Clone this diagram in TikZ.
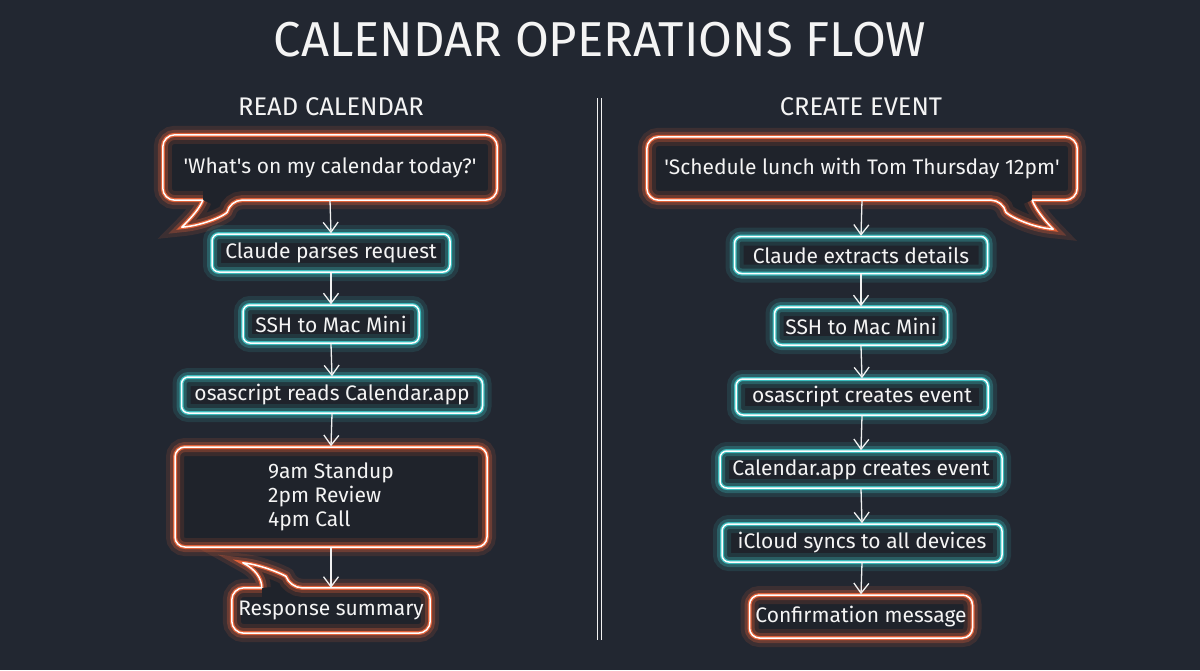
\documentclass[tikz,border=0pt]{standalone}
\usepackage{fontspec}
\setmainfont{Fira Sans}
\usetikzlibrary{arrows.meta,calc,backgrounds}

\definecolor{bgcol}{HTML}{222731}
\definecolor{boxfill}{HTML}{1F232B}
\definecolor{orangec}{HTML}{FF6A3A}
\definecolor{tealc}{HTML}{3ED2D2}
\definecolor{textc}{HTML}{F4F4F4}

\newcommand{\bodyfont}{\fontsize{21}{24}\selectfont}
\newcommand{\q}{\textquotesingle}

\tikzset{
    neon/.style={
        preaction={fill=boxfill},
        preaction={draw=#1, opacity=0.12, line width=18pt},
        preaction={draw=#1, opacity=0.25, line width=10pt},
        preaction={draw=#1, opacity=0.8, line width=4pt},
        draw=white, line width=1.5pt},
    tealbox/.style={neon=tealc, rounded corners=7pt, minimum height=38pt,
        inner sep=0pt, text=textc, font=\bodyfont},
    orangebox/.style={neon=orangec, rounded corners=10pt,
        inner sep=0pt, text=textc, font=\bodyfont},
    bubbletext/.style={inner sep=0pt, text=textc, font=\bodyfont},
    bubble/.style={neon=orangec, rounded corners=12pt, line cap=round, line join=round},
    flowarrow/.style={-{Straight Barb[length=10pt,width=15pt]}, draw=white!88!gray, line width=1.3pt},
    heading/.style={text=textc, font=\fontsize{25.5}{28}\selectfont},
}

\begin{document}
\begin{tikzpicture}[x=1pt, y=-1pt]
    \useasboundingbox (0, 0) rectangle (1200, 670);
    \begin{scope}[on background layer]
        \fill [bgcol] (0, 0) rectangle (1200, 670);
    \end{scope}

    \node (title) at (600, 40) [text=textc, font=\fontsize{49}{54}\selectfont] {CALENDAR OPERATIONS FLOW};

    % divider
    \draw [white!90!gray, line width=1pt] (597.5, 98) -- (597.5, 640);
    \draw [white!90!gray, line width=1pt] (601.5, 98) -- (601.5, 640);

    % Read calendar
    \node (readhd) at (331, 107) [heading] {READ CALENDAR};
    \node (q1) at (330, 167.5) [bubbletext, minimum width=334pt, minimum height=65pt] {\q What\q s on my calendar today?\q};
    \node (parse) at (331, 253) [tealbox, minimum width=238pt] {Claude parses request};
    \node (ssh1) at (331, 324) [tealbox, minimum width=176pt] {SSH to Mac Mini};
    \node (read) at (332, 395) [tealbox, minimum width=301pt, minimum height=36pt] {osascript reads Calendar.app};
    \node (events) at (331, 497) [orangebox, minimum width=312pt, minimum height=100pt, align=left] {9am Standup\\2pm Review\\4pm Call};
    \node (resp) at (331, 610.5) [bubbletext, minimum width=198pt, minimum height=45pt] {Response summary};

    \draw [flowarrow] (q1.south) -- (parse.north);
    \draw [flowarrow] (parse.south) -- (ssh1.north);
    \draw [flowarrow] (ssh1.south) -- (read.north);
    \draw [flowarrow] (read.south) -- (events.north);
    \draw [flowarrow] (events.south) -- (resp.north);

    % Create event
    \node (createhd) at (861, 107) [heading] {CREATE EVENT};
    \node (q2) at (862, 168.5) [bubbletext, minimum width=430pt, minimum height=63pt] {\q Schedule lunch with Tom Thursday 12pm\q};
    \node (extract) at (861, 255) [tealbox, minimum width=253pt, minimum height=37pt] {Claude extracts details};
    \node (ssh2) at (861, 326) [tealbox, minimum width=173pt] {SSH to Mac Mini};
    \node (create) at (862, 397) [tealbox, minimum width=252pt, minimum height=36pt] {osascript creates event};
    \node (calapp) at (861, 469.5) [tealbox, minimum width=282pt, minimum height=37pt] {Calendar.app creates event};
    \node (icloud) at (862, 543) [tealbox, minimum width=280pt] {iCloud syncs to all devices};
    \node (confirm) at (861, 616.5) [orangebox, minimum width=223pt, minimum height=43pt] {Confirmation message};

    \draw [flowarrow] (q2.south) -- (extract.north);
    \draw [flowarrow] (extract.south) -- (ssh2.north);
    \draw [flowarrow] (ssh2.south) -- (create.north);
    \draw [flowarrow] (create.south) -- (calapp.north);
    \draw [flowarrow] (calapp.south) -- (icloud.north);
    \draw [flowarrow] (icloud.south) -- (confirm.north);

    % speech bubbles
    \begin{scope}[on background layer]
        \draw [bubble] ($(q1.south west)+(40,0)$) -- (q1.south west) -- (q1.north west)
            -- (q1.north east) -- (q1.south east) -- ($(q1.south west)+(67,0)$) [sharp corners]
            .. controls +(-3,14) and +(24,-2) .. ($(q1.south west)+(19,27)$)
            .. controls +(10,-10) and +(-3,8) .. ($(q1.south west)+(40,0)$);
        \draw [bubble] ($(q2.south east)+(-45,0)$) -- (q2.south east) -- (q2.north east)
            -- (q2.north west) -- (q2.south west) -- ($(q2.south east)+(-74,0)$) [sharp corners]
            .. controls +(3,14) and +(-24,-2) .. ($(q2.south east)+(-24,29)$)
            .. controls +(-10,-10) and +(3,8) .. ($(q2.south east)+(-45,0)$);
        \draw [bubble] ($(resp.north west)+(30,0)$) -- (resp.north west) -- (resp.south west)
            -- (resp.south east) -- (resp.north east) -- ($(resp.north west)+(58,0)$) [sharp corners]
            .. controls +(-4,-12) and +(20,2) .. ($(resp.north west)+(11,-25)$)
            .. controls +(12,6) and +(0,-10) .. ($(resp.north west)+(30,0)$);
    \end{scope}
\end{tikzpicture}
\end{document}
